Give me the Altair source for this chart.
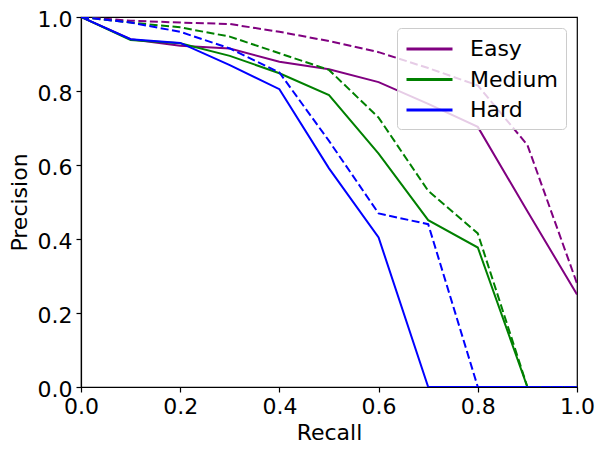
import altair as alt
import pandas as pd

recall = [0.0, 0.1, 0.2, 0.3, 0.4, 0.5, 0.6, 0.7, 0.8, 0.9, 1.0]
easy_solid = [1.0, 0.94, 0.922, 0.915, 0.879, 0.859, 0.824, 0.765, 0.703, 0.475, 0.25]
easy_dashed = [1.0, 0.99, 0.985, 0.981, 0.96, 0.935, 0.905, 0.862, 0.815, 0.654, 0.28]
medium_solid = [1.0, 0.938, 0.929, 0.895, 0.848, 0.789, 0.631, 0.451, 0.377, 0.0, 0.0]
medium_dashed = [1.0, 0.985, 0.972, 0.947, 0.902, 0.857, 0.728, 0.53, 0.415, 0.0, 0.0]
hard_solid = [1.0, 0.94, 0.93, 0.87, 0.805, 0.591, 0.404, 0.0, 0.0, 0.0, 0.0]
hard_dashed = [1.0, 0.985, 0.96, 0.915, 0.85, 0.665, 0.469, 0.44, 0.0, 0.0, 0.0]

difficulties = ["Easy", "Medium", "Hard"]
colors = ["#800080", "#008000", "#0000ff"]

rows = []
series = [
    ("Easy", "solid", easy_solid), ("Easy", "dashed", easy_dashed),
    ("Medium", "solid", medium_solid), ("Medium", "dashed", medium_dashed),
    ("Hard", "solid", hard_solid), ("Hard", "dashed", hard_dashed),
]
for diff, style, vals in series:
    for r, p in zip(recall, vals):
        rows.append({"Recall": r, "Precision": p, "Difficulty": diff, "Style": style, "Key": diff + style})
df = pd.DataFrame(rows)

x = alt.X("Recall:Q", title="Recall",
          scale=alt.Scale(domain=[0, 1], nice=False, zero=False),
          axis=alt.Axis(values=[0, 0.2, 0.4, 0.6, 0.8, 1.0], format=".1f"))
y = alt.Y("Precision:Q", title="Precision",
          scale=alt.Scale(domain=[0, 1], nice=False, zero=False),
          axis=alt.Axis(values=[0, 0.2, 0.4, 0.6, 0.8, 1.0], format=".1f", labelOffset=2))
color = alt.Color("Difficulty:N", title=None,
                  scale=alt.Scale(domain=difficulties, range=colors),
                  legend=alt.Legend(orient="top-right", offset=11))

solid = alt.Chart(df).transform_filter(alt.datum.Style == "solid").mark_line(
    strokeWidth=2, clip=True).encode(x=x, y=y, color=color, detail="Key:N", order="Recall:Q")
dashed = alt.Chart(df).transform_filter(alt.datum.Style == "dashed").mark_line(
    strokeWidth=2, strokeDash=[8, 3.5], clip=True).encode(
    x=x, y=y, color=alt.Color("Difficulty:N", scale=alt.Scale(domain=difficulties, range=colors), legend=None),
    detail="Key:N", order="Recall:Q")

chart = alt.layer(solid, dashed).properties(
    width=496, height=370,
    autosize=alt.AutoSizeParams(type="none"),
    padding={"left": 73, "top": 9, "right": 19, "bottom": 57},
).configure_view(stroke="black", strokeWidth=1.2).configure_axis(
    grid=False, domainColor="black", domainWidth=1.2, tickColor="black", tickWidth=1.2,
    tickSize=5, labelFont="DejaVu Sans", labelFontSize=22, labelColor="black",
    labelPadding=4, titleFont="DejaVu Sans", titleFontSize=22, titleFontWeight="normal",
    titleColor="black", titlePadding=5, labelFlush=False, labelOverlap=False,
).configure_axisY(titlePadding=6).configure_legend(
    labelFont="DejaVu Sans", labelFontSize=22, labelColor="black", symbolType="M-1,0H3",
    symbolSize=529, symbolStrokeWidth=3, labelOffset=39, rowPadding=6.5,
    padding=8, strokeColor="#cccccc", fillColor="rgba(255,255,255,0.8)", cornerRadius=4,
)

chart.save("out.html", embed_options={"renderer": "svg", "actions": False})
